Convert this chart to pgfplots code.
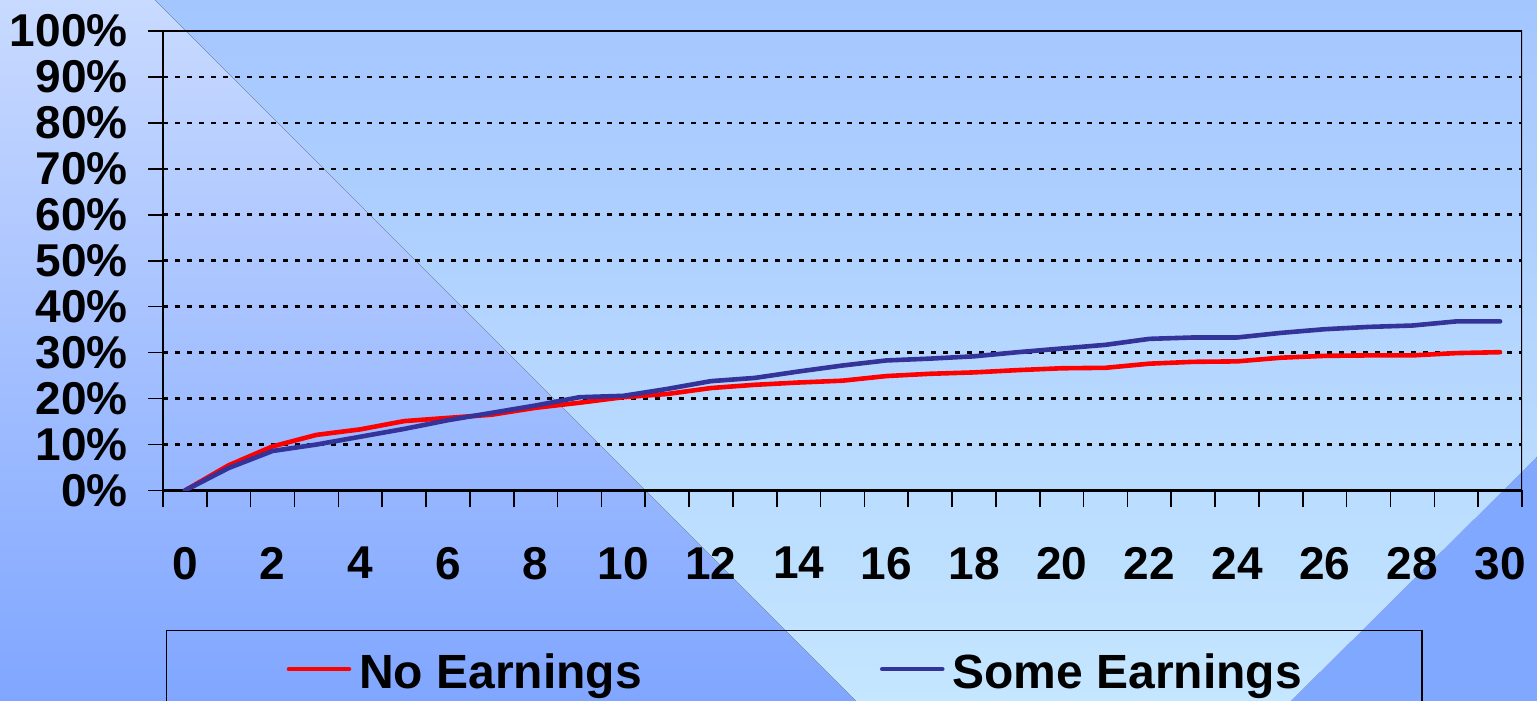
\documentclass[border=0pt]{standalone}
\usepackage{pgfplots}
\pgfplotsset{compat=1.18}
\usepackage{fontspec}
\setmainfont{Liberation Sans}
\definecolor{lefttop}{HTML}{C8DAFF}
\definecolor{leftbot}{HTML}{80A6FF}
\definecolor{righttop}{HTML}{A4C6FF}
\definecolor{rightbot}{HTML}{C4E6FF}
\definecolor{corner}{HTML}{80A8FF}
\definecolor{serred}{HTML}{FF0000}
\definecolor{serblue}{HTML}{333399}
\newcommand{\lbl}{\bfseries\fontsize{23}{23}\selectfont}
\newcommand{\lgd}{\bfseries\fontsize{24}{24}\selectfont}
\begin{document}
\begin{tikzpicture}
\useasboundingbox (0,0) rectangle (768.5pt,350.5pt);
\clip (0,0) rectangle (768.5pt,350.5pt);
% background
\fill[top color=lefttop, bottom color=leftbot] (0,350.5pt) -- (77.5pt,350.5pt) -- (428pt,0) -- (0,0) -- cycle;
\fill[top color=righttop, bottom color=rightbot] (77.5pt,350.5pt) -- (768.5pt,350.5pt) -- (768.5pt,122pt) -- (645.5pt,0) -- (428pt,0) -- cycle;
\fill[corner] (768.5pt,122pt) -- (768.5pt,0) -- (645.5pt,0) -- cycle;
\begin{axis}[
  at={(81.5pt,105.25pt)}, anchor=south west,
  scale only axis, width=679.5pt, height=229.75pt,
  xmin=-0.5, xmax=30.5, ymin=0, ymax=100,
  axis x line=bottom, axis y line=left,
  axis line style={-, line width=1.2pt, black},
  tick align=outside,
  major tick length=7.5pt, minor tick length=8.5pt,
  every tick/.style={black, line width=0.8pt},
  ytick={0,10,...,100},
  yticklabels={0\%,10\%,20\%,30\%,40\%,50\%,60\%,70\%,80\%,90\%,100\%},
  xtick={0,2,...,30},
  xticklabels={0,2,4,6,8,10,12,14,16,18,20,22,24,26,28,30},
  minor xtick={-0.5,0.5,...,30.5},
  major x tick style={draw=none},
  ymajorgrids,
  major grid style={black, line width=1.3pt, dash pattern=on 2.5pt off 3.5pt},
  yticklabel style={font=\lbl, inner sep=0pt, xshift=-10pt},
  xticklabel style={font=\lbl, inner sep=0pt, anchor=north, yshift=-20.5pt},
  legend columns=2,
  legend cell align=left,
  legend image code/.code={\draw[#1, line cap=round] (0pt,1pt) -- (30pt,1pt);},
  legend style={at={(axis description cs:0.0022,-0.3036)}, anchor=north west,
    draw=black, line width=0.7pt, fill=none, inner xsep=60pt, inner ysep=11.5pt,
    font=\lgd, nodes={inner sep=0pt, text depth=0pt},
    /tikz/every odd column/.append style={column sep=4pt},
    /tikz/every even column/.append style={column sep=119pt}},
]
\addplot[serred, line width=2.3pt, line join=round, line cap=round] coordinates {
(0,0) (1,5.5) (2,9.6) (3,12.1) (4,13.3) (5,15.1) (6,15.8) (7,16.5) (8,18.0) (9,19.1)
(10,20.3) (11,21.0) (12,22.3) (13,23.0) (14,23.5) (15,23.9) (16,24.9) (17,25.4) (18,25.7)
(19,26.2) (20,26.6) (21,26.7) (22,27.6) (23,28.0) (24,28.1) (25,28.9) (26,29.3) (27,29.4)
(28,29.4) (29,29.9) (30,30.1)};
\addlegendentry{No Earnings}
\addplot[serblue, line width=2.3pt, line join=round, line cap=round] coordinates {
(0,0) (1,4.9) (2,8.6) (3,10.0) (4,11.7) (5,13.4) (6,15.3) (7,16.9) (8,18.5) (9,20.3)
(10,20.6) (11,22.1) (12,23.8) (13,24.5) (14,25.9) (15,27.2) (16,28.3) (17,28.7) (18,29.2)
(19,30.1) (20,30.9) (21,31.7) (22,33.0) (23,33.3) (24,33.3) (25,34.3) (26,35.1) (27,35.6)
(28,35.9) (29,36.8) (30,36.8)};
\addlegendentry{Some Earnings}
\draw[black, line width=0.7pt] (rel axis cs:0,1) -- (rel axis cs:1,1) -- (rel axis cs:1,0);
\end{axis}
\end{tikzpicture}
\end{document}
